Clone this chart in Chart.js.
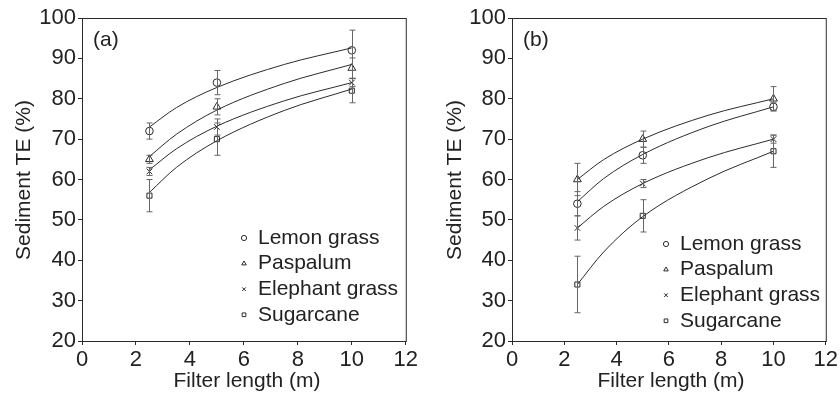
<!DOCTYPE html>
<html>
<head>
<meta charset="utf-8">
<script src="https://cdn.jsdelivr.net/npm/chart.js@4.4.1/dist/chart.umd.min.js"></script>
<style>
  body { margin: 0; background: #fff; }
  .panel { position: absolute; top: 0; width: 420px; height: 404px; }
</style>
</head>
<body>
<div class="panel" style="left:0"><canvas id="chartA" width="420" height="404"></canvas></div>
<div class="panel" style="left:420px"><canvas id="chartB" width="420" height="404"></canvas></div>
<script>
const filterLength = [2.5, 5, 10];
const fitLength = [2.5, 3.5, 5, 7.5, 10];
const seriesNames = ['Lemon grass', 'Paspalum', 'Elephant grass', 'Sugarcane'];
const markers = ['circle', 'triangle', 'crossRot', 'rect'];
const xTicks = [0, 2, 4, 6, 8, 10, 12];
const yTicks = [20, 30, 40, 50, 60, 70, 80, 90, 100];

// panel (a): means, error bar half widths, fitted curve read at fitLength
const lemonA = [72, 84, 92];
const lemonErrA = [2, 3, 5];
const lemonFitA = [73, 77.8, 82.8, 88.5, 92.6];
const paspalumA = [65, 78, 87.6];
const paspalumErrA = [1, 2, 2.5];
const paspalumFitA = [65.7, 71.2, 77.2, 83.8, 88.5];
const elephantA = [62, 73, 84];
const elephantErrA = [1, 2, 1];
const elephantFitA = [62.4, 67.6, 73.2, 79.5, 84];
const sugarcaneA = [56, 70, 82];
const sugarcaneErrA = [4, 4, 3];
const sugarcaneFitA = [56.8, 63, 69.6, 77.1, 82.4];

// panel (b)
const lemonB = [54, 66, 78];
const lemonErrB = [3, 2, 1];
const lemonFitB = [54.5, 60.2, 66.2, 73.1, 78];
const paspalumB = [60, 70, 80];
const paspalumErrB = [4, 2, 3];
const paspalumFitB = [60, 64.9, 70, 75.9, 80];
const elephantB = [48, 59, 70];
const elephantErrB = [3, 1, 1];
const elephantFitB = [48, 53.3, 59, 65.4, 70];
const sugarcaneB = [34, 51, 67];
const sugarcaneErrB = [7, 4, 4];
const sugarcaneFitB = [34, 42, 50.8, 60.2, 67];

const ink = '#2b2b2b';
const barInk = '#666';
const tickFont = { family: '"Liberation Sans", Arial, sans-serif', size: 22 };
const markerSize = { circle: 3.8, triangle: 4.5, crossRot: 4, rect: 3.6 };

function pts(xs, ys) {
  return xs.map((x, i) => ({ x: x, y: ys[i] }));
}

function buildDatasets(means, errs, fits) {
  const sets = [];
  for (let k = 0; k < means.length; k++) {
    sets.push({
      type: 'line', data: pts(fitLength, fits[k]), showLine: true, pointRadius: 0,
      borderColor: ink, borderWidth: 1, cubicInterpolationMode: 'monotone', fill: false
    });
    sets.push({
      type: 'scatter', label: seriesNames[k], data: pts(filterLength, means[k]), err: errs[k],
      pointStyle: markers[k], pointRadius: markerSize[markers[k]],
      pointBorderColor: ink, pointBackgroundColor: 'rgba(0,0,0,0)', pointBorderWidth: 1
    });
  }
  return sets;
}

const decor = {
  id: 'decor',
  afterDatasetsDraw(chart, args, o) {
    const ctx = chart.ctx;
    const xs = chart.scales.x, ys = chart.scales.y;
    const a = chart.chartArea;
    ctx.save();
    // error bars
    ctx.strokeStyle = barInk;
    ctx.lineWidth = 1;
    chart.data.datasets.forEach(ds => {
      if (!ds.err) return;
      ds.data.forEach((p, i) => {
        const px = Math.round(xs.getPixelForValue(p.x)) + 0.5;
        const t = ys.getPixelForValue(p.y + ds.err[i]);
        const b = ys.getPixelForValue(p.y - ds.err[i]);
        ctx.beginPath();
        ctx.moveTo(px, t); ctx.lineTo(px, b);
        ctx.moveTo(px - 3, t); ctx.lineTo(px + 3, t);
        ctx.moveTo(px - 3, b); ctx.lineTo(px + 3, b);
        ctx.stroke();
      });
    });
    // frame
    ctx.strokeStyle = ink;
    ctx.strokeRect(a.left + 0.5, a.top + 0.5, a.right - a.left, a.bottom - a.top);
    // texts
    ctx.fillStyle = '#222';
    ctx.font = '21px "Liberation Sans", Arial, sans-serif';
    ctx.textBaseline = 'middle';
    ctx.textAlign = 'left';
    ctx.fillText(o.tag, o.tagX, 40);
    // legend
    chart.data.datasets.filter(d => d.err).forEach((d, i) => {
      const ly = o.legY + i * o.legStep;
      ctx.strokeStyle = ink;
      ctx.fillStyle = 'rgba(0,0,0,0)';
      ctx.lineWidth = 1;
      Chart.helpers.drawPoint(ctx, { pointStyle: d.pointStyle, radius: 2.6, borderWidth: 1, rotation: 0 }, o.legX, ly);
      ctx.fillStyle = '#222';
      ctx.fillText(d.label, o.legX + 14, ly);
    });
    ctx.textAlign = 'center';
    ctx.fillText('Filter length (m)', o.xTitleX, 381);
    ctx.translate(o.yTitleX, 180);
    ctx.rotate(-Math.PI / 2);
    ctx.fillText('Sediment TE (%)', 0, 0);
    ctx.restore();
  }
};

function makeChart(id, means, errs, fits, g) {
  return new Chart(document.getElementById(id), {
    type: 'scatter',
    data: { datasets: buildDatasets(means, errs, fits) },
    plugins: [decor],
    options: {
      responsive: false,
      animation: false,
      layout: { padding: { top: 18, right: g.right, left: 0, bottom: 0 } },
      plugins: { legend: { display: false }, tooltip: { enabled: false }, decor: g },
      scales: {
        x: {
          type: 'linear', min: 0, max: 12,
          afterBuildTicks(s) { s.ticks = xTicks.map(v => ({ value: v })); },
          ticks: { font: tickFont, color: '#222', padding: 2, maxRotation: 0 },
          grid: { drawOnChartArea: false, tickLength: 4, color: ink },
          border: { color: ink },
          afterFit(s) { s.height = 63; }
        },
        y: {
          type: 'linear', min: 20, max: 100,
          afterBuildTicks(s) { s.ticks = yTicks.map(v => ({ value: v })); },
          ticks: { font: tickFont, color: '#222', padding: 2 },
          grid: { drawOnChartArea: false, tickLength: 4, color: ink },
          border: { color: ink },
          afterFit(s) { s.width = g.yWidth; }
        }
      }
    }
  });
}

makeChart('chartA',
  [lemonA, paspalumA, elephantA, sugarcaneA],
  [lemonErrA, paspalumErrA, elephantErrA, sugarcaneErrA],
  [lemonFitA, paspalumFitA, elephantFitA, sugarcaneFitA],
  { right: 7, yWidth: 82, tag: '(a)', tagX: 93, legX: 244, legY: 238, legStep: 25.6, xTitleX: 247, yTitleX: 24 });

makeChart('chartB',
  [lemonB, paspalumB, elephantB, sugarcaneB],
  [lemonErrB, paspalumErrB, elephantErrB, sugarcaneErrB],
  [lemonFitB, paspalumFitB, elephantFitB, sugarcaneFitB],
  { right: 11, yWidth: 92, tag: '(b)', tagX: 103, legX: 246, legY: 244, legStep: 25.6, xTitleX: 251, yTitleX: 35 });
</script>
</body>
</html>
